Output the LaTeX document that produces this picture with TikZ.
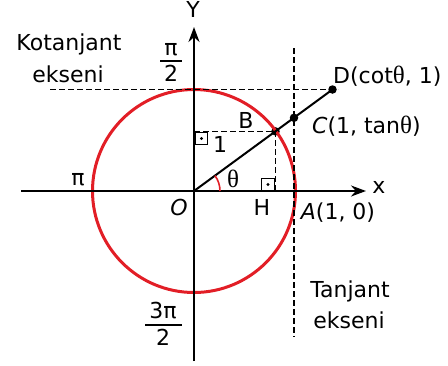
\documentclass[tikz,border=0pt]{standalone}
\usepackage{fontspec}
\setmainfont{DejaVu Sans}
\newfontfamily\thf{Liberation Serif}
\newcommand\myth{{\thf\fontsize{25}{26}\selectfont θ}}
\usetikzlibrary{arrows.meta}
\definecolor{cred}{RGB}{226,30,38}
\begin{document}
\begin{tikzpicture}[x=1pt,y=-1pt,
  lbl/.style={inner sep=0pt,anchor=base,font=\fontsize{22}{24}\selectfont},
  axis/.style={line width=2.2pt,-{Stealth[length=15pt,width=11pt]}},
  dsh/.style={line width=1.2pt,dash pattern=on 5.5pt off 3.5pt},
  pt/.style={circle,fill=black,inner sep=0pt,minimum size=8.5pt},
  rmark/.style={draw,line width=1.4pt,minimum size=12.5pt,inner sep=0pt},
]
\useasboundingbox (0,0) rectangle (448,365);
% key points
\coordinate (O) at (194,191);
\coordinate (xl) at (21,191);
\coordinate (xr) at (366,191);
\coordinate (yb) at (194,361);
\coordinate (yt) at (194,27);
\coordinate (Ttop) at (294,48);
\coordinate (Tbot) at (294,337);
\coordinate (Kl) at (50,89.5);
\coordinate (Kr) at (338,89.5);
\coordinate (Hp) at (275.5,191);
\coordinate (Yp) at (194,131.4);
\node[pt] (B) at (275.5,131.4) {};
\node[pt] (C) at (294,117.8) {};
\node[pt] (D) at (332.5,89.5) {};
% circle
\draw[cred,line width=3pt] (O) circle[radius=101.5];
% axes
\draw[axis] (xl) -- (xr);
\draw[axis] (yb) -- (yt);
% dashed
\draw[dsh] (Ttop) -- (Tbot);
\draw[dsh] (Kl) -- (Kr);
\draw[dsh] (Yp) -- (B.center);
\draw[dsh] (B.center) -- (Hp);
% ray
\draw[line width=2pt] (O) -- (D.center);
% angle
\draw[cred,line width=1.6pt] ([xshift=26pt]O) arc[start angle=0,end angle=-36.2,radius=26];
% right angle marks
\node[rmark] (r1) at (201.5,138.5) {};
\fill (r1.center) circle[radius=1.6pt];
\node[rmark] (r2) at (268,184.5) {};
\fill (r2.center) circle[radius=1.6pt];
% labels
\node[lbl] (ly) at (193,17) {Y};
\node[lbl] (lx) at (379,193) {x};
\node[lbl] (k1) at (69,50) {Kotanjant};
\node[lbl] (k2) at (68,82) {ekseni};
\node[lbl] (t1) at (350,297) {Tanjant};
\node[lbl] (t2) at (349,328) {ekseni};
\node[lbl] (pi1) at (171,55) {π};
\draw[line width=1.6pt] (160,61) -- (182,61);
\node[lbl] (two1) at (171,81) {2};
\node[lbl] (pi2) at (78,185) {π};
\node[lbl] (pi3) at (163,318) {3π};
\draw[line width=1.6pt] (145,325) -- (182,325);
\node[lbl] (two3) at (163,345) {2};
\node[lbl] (lO) at (179,215) {\itshape O};
\node[lbl] (lH) at (262,215) {H};
\node[lbl] (lA) at (338,219) {{\itshape A}(1, 0)};
\node[lbl] (lB) at (246,128) {B};
\node[lbl] (l1) at (220,152) {1};
\node[lbl] (lt) at (233,187) {\myth};
\node[lbl,anchor=base west] (lD) at (333,83) {D(cot\myth, 1)};
\node[lbl,anchor=base west] (lC) at (312,133) {{\itshape C}(1, tan\myth)};
\end{tikzpicture}
\end{document}
